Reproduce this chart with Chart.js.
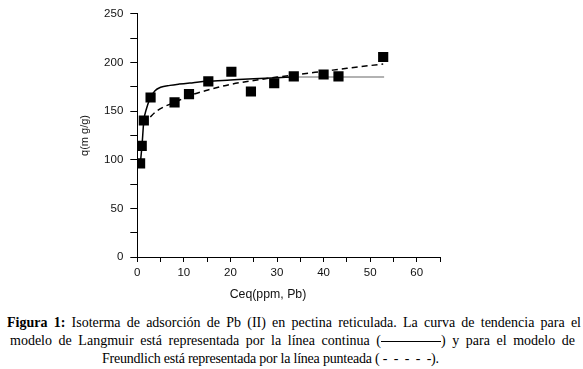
<!DOCTYPE html>
<html>
<head>
<meta charset="utf-8">
<script src="https://cdn.jsdelivr.net/npm/chart.js@4/dist/chart.umd.min.js"></script>
<style>
  body { margin: 0; background: #fff; }
  #wrap { position: relative; width: 583px; height: 369px; }
  .cap {
    position: absolute; height: 17.5px;
    font-family: "Liberation Serif", "Times New Roman", serif;
    font-size: 14px; line-height: 17.5px; color: #000;
  }
  .just { text-align: justify; text-align-last: justify; }
  .solid { display: inline-block; width: 60px; border-top: 1px solid #000; vertical-align: middle; }
  #xtitle {
    position: absolute; left: 168px; width: 200px; top: 286px; text-align: center;
    font-family: "Liberation Sans", Arial, sans-serif; font-size: 12.3px; line-height: 16px; color: #111;
  }
</style>
</head>
<body>
<div id="wrap">
  <canvas id="chart" width="583" height="305"></canvas>
  <div id="xtitle">Ceq(ppm, Pb)</div>
  <div class="cap just" style="left:7px; width:574px; top:314px;"><b>Figura 1:</b> Isoterma de adsorción de Pb (II) en pectina reticulada. La curva de tendencia para el</div>
  <div class="cap just" style="left:10px; width:565px; top:332px;">modelo de Langmuir está representada por la línea continua (<span class="solid"></span>) y para el modelo de</div>
  <div class="cap" style="left:102px; top:349.5px; white-space:nowrap; letter-spacing:-0.22px;">Freundlich está representada por la línea punteada ( - &nbsp;- &nbsp;- &nbsp;- &nbsp;-).</div>
</div>
<script>
// measured points
const ceq = [0.6, 0.95, 1.4, 2.85, 8.0, 11.1, 15.25, 20.2, 24.4, 29.4, 33.6, 40.0, 43.2, 52.8];
const qads = [96.3, 114.3, 140.4, 164, 159, 167.5, 180.7, 190.5, 170.2, 178.7, 185.7, 187.7, 185.7, 205.7];

// Langmuir trend line
const langX = [0.6, 1.0, 1.4, 2.0, 2.85, 3.8, 5, 7, 9, 12, 15, 20, 25, 30, 34, 53];
const langY = [94, 114, 140, 153, 164, 171, 174.5, 176.5, 177.8, 179.3, 180.7, 182, 183.3, 184.4, 185, 185];

// Freundlich trend line
const freuX = [1.4, 2, 3, 4, 6, 8, 11, 15, 20, 25, 30, 35, 40, 45, 52.8];
const freuY = [136, 139.5, 145, 149.5, 155, 159, 165.5, 171.5, 177.5, 181.5, 185, 188, 191, 194, 198.5];

const xTicks = [0, 10, 20, 30, 40, 50, 60];
const yTicks = [0, 50, 100, 150, 200, 250];

const pts = (xs, ys) => xs.map((x, i) => ({x: x, y: ys[i]}));

new Chart(document.getElementById("chart"), {
  type: "scatter",
  data: {
    datasets: [
      {
        data: pts(ceq, qads),
        pointStyle: "rect",
        pointRadius: 7.2,
        backgroundColor: "#000",
        borderWidth: 0,
        order: 0,
      },
      {
        data: pts(langX, langY),
        showLine: true,
        pointRadius: 0,
        borderColor: "#000",
        borderWidth: 1.5,
        cubicInterpolationMode: "monotone",
        segment: {
          borderColor: ctx => ctx.p0.parsed.x >= 34 ? "#999" : "#000",
        },
        order: 1,
      },
      {
        data: pts(freuX, freuY),
        showLine: true,
        pointRadius: 0,
        borderColor: "#000",
        borderWidth: 1.5,
        borderDash: [6, 4],
        cubicInterpolationMode: "monotone",
        order: 2,
      },
    ]
  },
  options: {
    responsive: false,
    animation: false,
    layout: { padding: { left: 78, top: 10.7, right: 143, bottom: 0 } },
    plugins: { legend: { display: false }, tooltip: { enabled: false } },
    scales: {
      x: {
        type: "linear",
        min: 0,
        max: 65,
        afterFit: s => { s.height = 48; },
        border: { color: "#000", width: 1 },
        grid: { drawOnChartArea: false, drawTicks: true, tickLength: 5, color: "#000" },
        ticks: {
          stepSize: 5,
          padding: 4,
          color: "#111",
          font: { family: "Liberation Sans", size: 11.5 },
          callback: v => xTicks.includes(v) ? v : "",
          maxRotation: 0,
        },
      },
      y: {
        min: 0,
        max: 250,
        afterFit: s => { s.width = 59.3; },
        border: { color: "#000", width: 1 },
        grid: { drawOnChartArea: false, drawTicks: true, tickLength: 7, color: "#000" },
        ticks: {
          stepSize: 25,
          padding: 7,
          color: "#111",
          font: { family: "Liberation Sans", size: 11.5 },
          callback: v => yTicks.includes(v) ? v : "",
        },
        title: {
          display: true,
          text: "q(m g/g)",
          color: "#111",
          font: { family: "Liberation Sans", size: 11 },
          padding: { top: 0, bottom: 0 },
        },
      },
    },
  },
});
</script>
</body>
</html>
